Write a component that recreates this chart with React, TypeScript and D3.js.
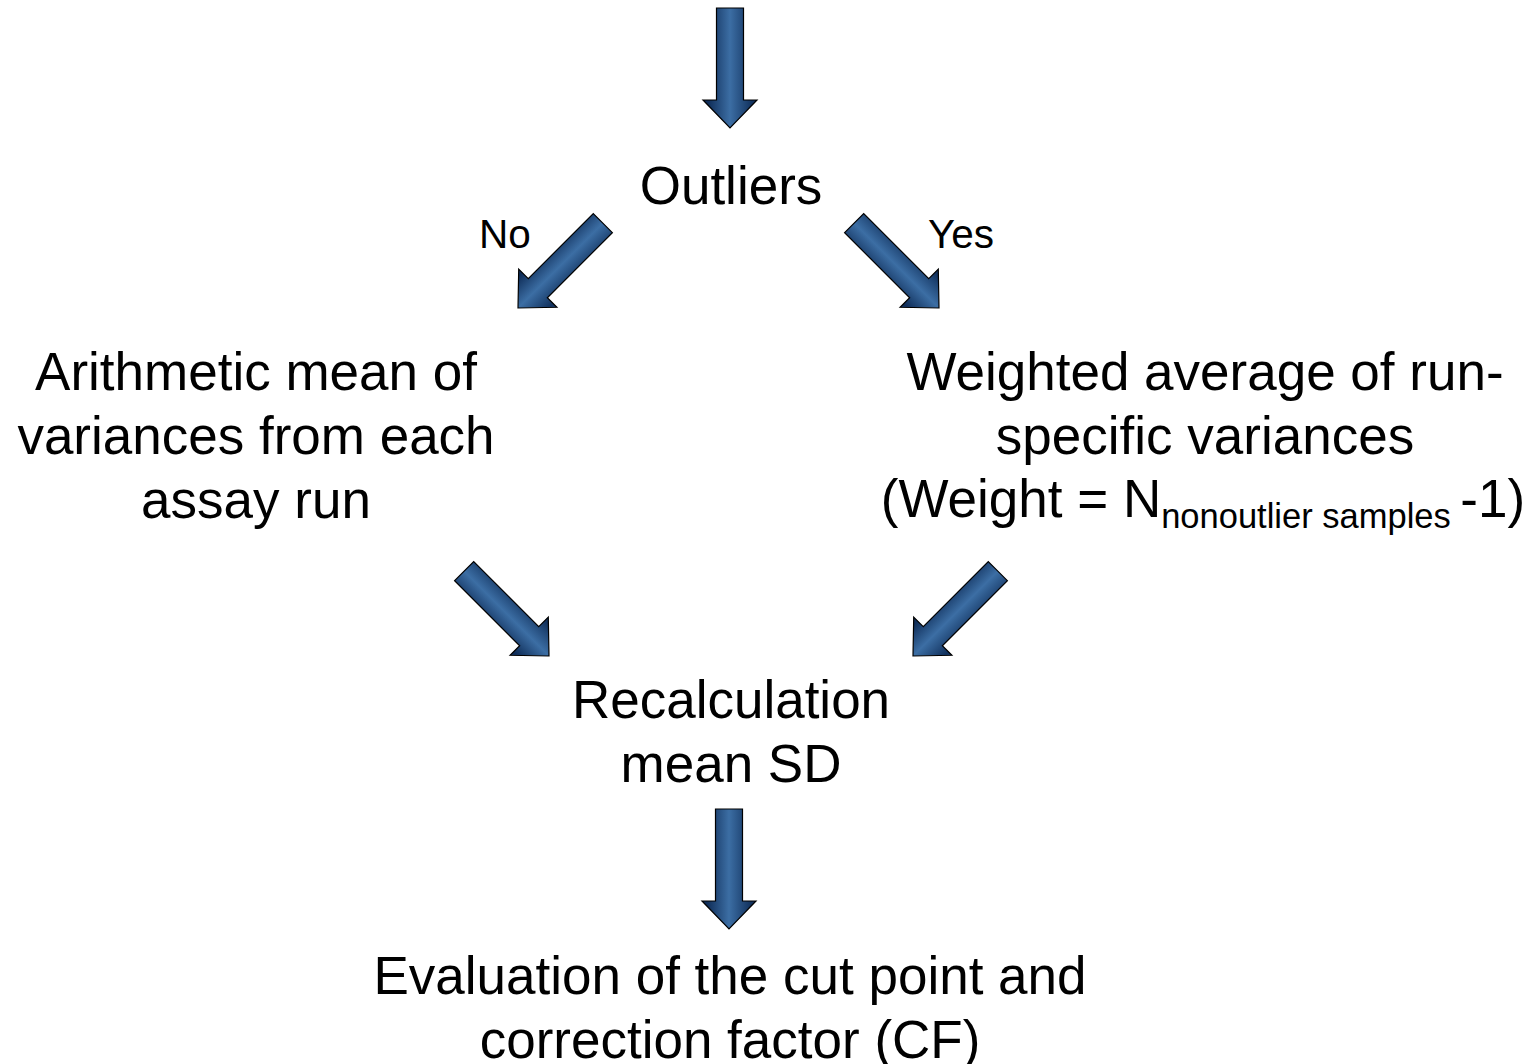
import React from "react";
import { line } from "d3";

// flowchart text
const topNode = ["Outliers"];
const leftNode = ["Arithmetic mean of", "variances from each", "assay run"];
const rightNode = ["Weighted average of run-", "specific variances"];
const weightLine = { before: "(Weight = N", sub: "nonoutlier samples ", after: "-1)" };
const midNode = ["Recalculation", "mean SD"];
const bottomNode = ["Evaluation of the cut point and", "correction factor (CF)"];
const branchLabels = ["No", "Yes"];

// arrows: tip position and rotation (0 = pointing down)
const arrows = [
  { id: "a1", tip: [730, 128], angle: 0 },
  { id: "a2", tip: [518, 308], angle: 45 },
  { id: "a3", tip: [939, 308], angle: -45 },
  { id: "a4", tip: [549, 656], angle: -45 },
  { id: "a5", tip: [913, 656], angle: 45 },
  { id: "a6", tip: [729, 929], angle: 0 },
];

const W = 1540;
const H = 1064;
const font = "'Liberation Sans', Arial, sans-serif";

// arrow outline in local coords, tip at origin
const len = 120;
const headLen = 28;
const shaftHalf = 13.5;
const headHalf = 27;
const arrowPts: [number, number][] = [
  [-shaftHalf, -len],
  [shaftHalf, -len],
  [shaftHalf, -headLen],
  [headHalf, -headLen],
  [0, 0],
  [-headHalf, -headLen],
  [-shaftHalf, -headLen],
];
const arrowPath = line()(arrowPts) + "Z";

function Lines({ lines, x, y, size = 53, gap = 64 }) {
  return (
    <text x={x} y={y} textAnchor="middle" fontSize={size} fontFamily={font} fill="#000">
      {lines.map((t, i) => (
        <tspan key={i} x={x} dy={i === 0 ? 0 : gap}>
          {t}
        </tspan>
      ))}
    </text>
  );
}

export default function App() {
  return (
    <svg
      width={W}
      height={H}
      style={{ position: "absolute", left: 0, top: 0, display: "block", background: "#fff" }}
    >
      <defs>
        <linearGradient id="arrowGrad" gradientUnits="userSpaceOnUse" x1={-22} y1={0} x2={22} y2={0}>
          <stop offset="0" stopColor="#0f2d58" />
          <stop offset="0.5" stopColor="#3c6ea4" />
          <stop offset="1" stopColor="#12325e" />
        </linearGradient>
      </defs>

      {arrows.map((a) => (
        <path
          key={a.id}
          d={arrowPath}
          transform={`translate(${a.tip[0]},${a.tip[1]}) rotate(${a.angle})`}
          fill="url(#arrowGrad)"
          stroke="#000"
          strokeWidth={1.2}
          strokeLinejoin="miter"
        />
      ))}

      <Lines lines={topNode} x={731} y={204} />
      <text x={505} y={248} textAnchor="middle" fontSize={40.5} fontFamily={font}>
        {branchLabels[0]}
      </text>
      <text x={961} y={248} textAnchor="middle" fontSize={40.5} fontFamily={font}>
        {branchLabels[1]}
      </text>

      <Lines lines={leftNode} x={256} y={390} />
      <Lines lines={rightNode} x={1205} y={390} />
      <text x={1203} y={517} textAnchor="middle" fontSize={53} fontFamily={font}>
        <tspan>{weightLine.before}</tspan>
        <tspan fontSize={34.5} dy={11}>
          {weightLine.sub}
        </tspan>
        <tspan dy={-11}>{weightLine.after}</tspan>
      </text>

      <Lines lines={midNode} x={731} y={718} />
      <Lines lines={bottomNode} x={730} y={994} />
    </svg>
  );
}
